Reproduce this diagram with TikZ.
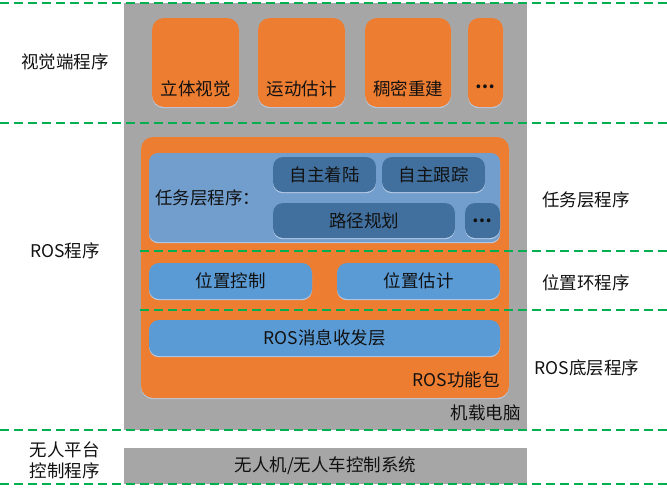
\documentclass[tikz,border=0pt]{standalone}
\usepackage{fontspec}
\setmainfont{Noto Sans CJK SC}
\usetikzlibrary{shadows}
\definecolor{graybg}{HTML}{A6A6A6}
\definecolor{orangebox}{HTML}{ED7D31}
\definecolor{taskblue}{HTML}{729ECE}
\definecolor{darkblue}{HTML}{41709F}
\definecolor{midblue}{HTML}{5B9BD5}
\definecolor{rim}{HTML}{B8CBE4}
\definecolor{gline}{HTML}{00B050}
\definecolor{txtcol}{HTML}{111111}
\tikzset{
  rimshadow/.style={general shadow={shadow xshift=0pt, shadow yshift=-1.2pt, fill=rim}},
  obox/.style={fill=orangebox, rounded corners=12pt, rimshadow, inner sep=0pt},
  tbox/.style={fill=taskblue, rounded corners=9pt, rimshadow, inner sep=0pt},
  dbox/.style={fill=darkblue, rounded corners=10pt, rimshadow, inner sep=0pt, text=txtcol, font=\fontsize{17.5pt}{20pt}\selectfont},
  mbox/.style={fill=midblue, rounded corners=10pt, rimshadow, inner sep=0pt, text=txtcol, font=\fontsize{17.5pt}{20pt}\selectfont},
  gbox/.style={fill=graybg, inner sep=0pt},
  txt/.style={text=txtcol, inner sep=0pt, font=\fontsize{17.5pt}{20pt}\selectfont},
  glinestyle/.style={draw=gline, line width=1.3pt, dash pattern=on 9pt off 5pt},
}
\begin{document}
\begin{tikzpicture}[x=1pt,y=-1pt]
\useasboundingbox (0,0) rectangle (667,493);
% gray computer box
\node[gbox, minimum width=403pt, minimum height=427pt] (pc) at (325.5,216.5) {};
\node[gbox, minimum width=403pt, minimum height=36pt] (ctrl) at (325.5,466) {};
\node[txt] (ctrlt) at (325.5,466) {无人机/无人车控制系统};
% vision boxes
\node[obox, minimum width=87pt, minimum height=89pt] (v1) at (195.5,62.5) {};
\node[obox, minimum width=87pt, minimum height=89pt] (v2) at (301.5,62.5) {};
\node[obox, minimum width=86pt, minimum height=89pt] (v3) at (408,62.5) {};
\node[obox, minimum width=35pt, minimum height=89pt, rounded corners=11pt] (v4) at (485.5,62.5) {};
\node[txt] (v1t) at (195.5,89) {立体视觉};
\node[txt] (v2t) at (301.5,89) {运动估计};
\node[txt] (v3t) at (408,89) {稠密重建};
\node[txt] (v4t) at (485.5,87) {\textbf{…}};
% ROS package
\node[obox, minimum width=368pt, minimum height=261pt] (ros) at (325,267.5) {};
\node[txt, anchor=east] (rost) at (500,380) {ROS功能包};
\node[txt, anchor=east] (pct) at (521,413) {机载电脑};
% task layer
\node[tbox, minimum width=351pt, minimum height=89pt] (task) at (324.5,197.5) {};
\node[txt, anchor=west] (taskt) at (155,198) {任务层程序：};
\node[dbox, minimum width=103pt, minimum height=35pt] (land) at (324.5,174.5) {自主着陆};
\node[dbox, minimum width=103pt, minimum height=35pt] (track) at (433.5,174.5) {自主跟踪};
\node[dbox, minimum width=182pt, minimum height=35pt] (path) at (364,220.5) {路径规划};
\node[dbox, minimum width=35pt, minimum height=35pt] (more) at (482.5,220.5) {\textbf{…}};
% position loop
\node[mbox, minimum width=163pt, minimum height=36pt] (posc) at (230.5,281) {位置控制};
\node[mbox, minimum width=163pt, minimum height=36pt] (pose) at (418.5,281) {位置估计};
\node[mbox, minimum width=351pt, minimum height=36pt] (msg) at (324.5,338) {ROS消息收发层};
% left labels
\node[txt] (l1) at (65,62) {视觉端程序};
\node[txt] (l2) at (65,251) {ROS程序};
\node[txt] (l3) at (65,450) {无人平台};
\node[txt] (l4) at (65,471) {控制程序};
% right labels
\node[txt] (r1) at (586,200) {任务层程序};
\node[txt] (r2) at (586,283) {位置环程序};
\node[txt] (r3) at (587,368) {ROS底层程序};
% green dashed separators
\draw[glinestyle] (0,3) -- (667,3);
\draw[glinestyle] (0,123) -- (667,123);
\draw[glinestyle] (140,251) -- (667,251);
\draw[glinestyle] (140,310) -- (667,310);
\draw[glinestyle] (0,430) -- (667,430);
\draw[glinestyle] (0,484) -- (667,484);
\end{tikzpicture}
\end{document}
